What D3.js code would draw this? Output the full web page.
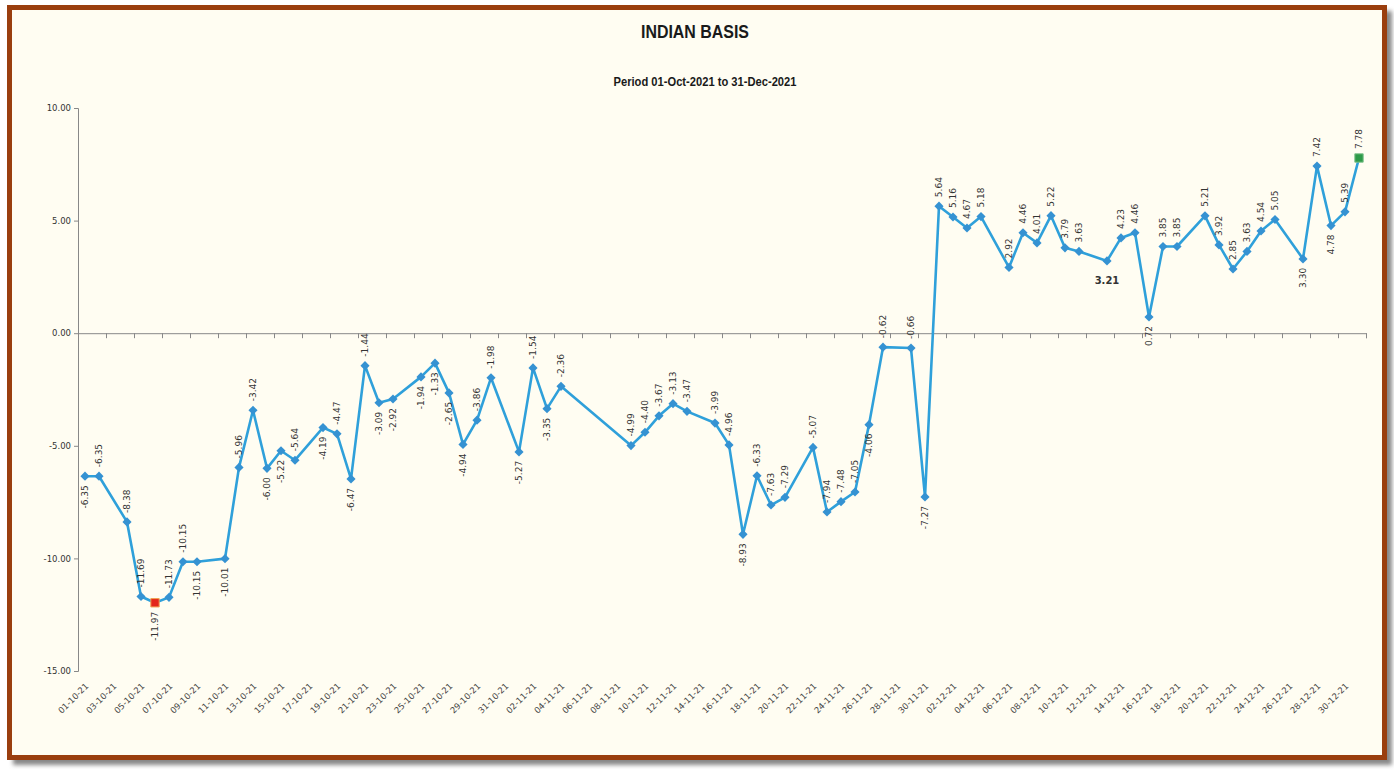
<!DOCTYPE html>
<html><head><meta charset="utf-8">
<script src="https://cdn.jsdelivr.net/npm/d3@7"></script>
<style>html,body{margin:0;padding:0;background:#fff;} svg{display:block}</style>
</head><body>
<svg id="c" width="1394" height="770"></svg>
<script>
// ---- data ----
const dates = [
 "01-10-21","02-10-21","04-10-21","05-10-21","06-10-21","07-10-21","08-10-21","09-10-21","11-10-21","12-10-21",
 "13-10-21","14-10-21","15-10-21","16-10-21","18-10-21","19-10-21","20-10-21","21-10-21","22-10-21","23-10-21",
 "25-10-21","26-10-21","27-10-21","28-10-21","29-10-21","30-10-21",
 "01-11-21","02-11-21","03-11-21","04-11-21","09-11-21","10-11-21","11-11-21","12-11-21","13-11-21","15-11-21",
 "16-11-21","17-11-21","18-11-21","19-11-21","20-11-21","22-11-21","23-11-21","24-11-21","25-11-21","26-11-21",
 "27-11-21","29-11-21","30-11-21",
 "01-12-21","02-12-21","03-12-21","04-12-21","06-12-21","07-12-21","08-12-21","09-12-21","10-12-21","11-12-21",
 "13-12-21","14-12-21","15-12-21","16-12-21","17-12-21","18-12-21","20-12-21","21-12-21","22-12-21","23-12-21",
 "24-12-21","25-12-21","27-12-21","28-12-21","29-12-21","30-12-21","31-12-21"
];
const basis = [
 -6.35,-6.35,-8.38,-11.69,-11.97,-11.73,-10.15,-10.15,-10.01,-5.96,
 -3.42,-6.00,-5.22,-5.64,-4.19,-4.47,-6.47,-1.44,-3.09,-2.92,
 -1.94,-1.33,-2.65,-4.94,-3.86,-1.98,
 -5.27,-1.54,-3.35,-2.36,-4.99,-4.40,-3.67,-3.13,-3.47,-3.99,
 -4.96,-8.93,-6.33,-7.63,-7.29,-5.07,-7.94,-7.48,-7.05,-4.06,
 -0.62,-0.66,-7.27,
 5.64,5.16,4.67,5.18,2.92,4.46,4.01,5.22,3.79,3.63,
 3.21,4.23,4.46,0.72,3.85,3.85,5.21,3.92,2.85,3.63,
 4.54,5.05,3.30,7.42,4.78,5.39,7.78
];
// dates whose value label sits below the point
const labelsBelow = ["01-10-21","06-10-21","09-10-21","11-10-21","14-10-21","15-10-21","18-10-21","20-10-21",
 "22-10-21","23-10-21","25-10-21","26-10-21","27-10-21","28-10-21","01-11-21","03-11-21","17-11-21",
 "26-11-21","30-11-21","16-12-21","27-12-21","29-12-21"];
const labelsFlat = ["13-12-21"];
const xTickLabels = [
 "01-10-21","03-10-21","05-10-21","07-10-21","09-10-21","11-10-21","13-10-21","15-10-21","17-10-21","19-10-21",
 "21-10-21","23-10-21","25-10-21","27-10-21","29-10-21","31-10-21","02-11-21","04-11-21","06-11-21","08-11-21",
 "10-11-21","12-11-21","14-11-21","16-11-21","18-11-21","20-11-21","22-11-21","24-11-21","26-11-21","28-11-21",
 "30-11-21","02-12-21","04-12-21","06-12-21","08-12-21","10-12-21","12-12-21","14-12-21","16-12-21","18-12-21",
 "20-12-21","22-12-21","24-12-21","26-12-21","28-12-21","30-12-21"
];
const yTicks = [10, 5, 0, -5, -10, -15];
const title = "INDIAN BASIS";
const subtitle = "Period 01-Oct-2021 to 31-Dec-2021";

// ---- chart ----
const svg = d3.select("#c");
const parse = d3.utcParse("%d-%m-%y");
const data = dates.map((d, i) => ({key: d, date: parse(d), v: basis[i]}));

const DAY = 864e5;
const start = new Date(Date.UTC(2021, 8, 30, 12));
const end = new Date(Date.UTC(2021, 11, 31, 12));
const x = d3.scaleUtc().domain([start, end]).range([78, 1366]);
const y = d3.scaleLinear().domain([-15, 10]).range([671, 108]);

// frame + shadow
const defs = svg.append("defs");
const f = defs.append("filter").attr("id", "sh").attr("x", "-5%").attr("y", "-5%").attr("width", "110%").attr("height", "110%");
f.append("feGaussianBlur").attr("stdDeviation", 2);
svg.append("rect").attr("x", 13).attr("y", 11).attr("width", 1379).attr("height", 754)
  .attr("fill", "#888").attr("filter", "url(#sh)");
svg.append("rect").attr("x", 9.5).attr("y", 7.5).attr("width", 1375).attr("height", 750)
  .attr("fill", "#FFFDF2").attr("stroke", "#9A3E0E").attr("stroke-width", 5);

// titles
svg.append("text").attr("x", 695).attr("y", 38).attr("text-anchor", "middle")
  .attr("textLength", 108).attr("lengthAdjust", "spacingAndGlyphs")
  .style("font-family", "'Liberation Sans',sans-serif")
  .style("font-weight", "bold").style("font-size", "19px").attr("fill", "#1a1a1a").text(title);
svg.append("text").attr("x", 705).attr("y", 86).attr("text-anchor", "middle")
  .attr("textLength", 183).attr("lengthAdjust", "spacingAndGlyphs")
  .style("font-family", "'Liberation Sans',sans-serif")
  .style("font-weight", "bold").style("font-size", "12px").attr("fill", "#1a1a1a").text(subtitle);

// y axis
const yAx = svg.append("g").attr("transform", "translate(78,0)")
  .call(d3.axisLeft(y).tickValues(yTicks).tickSize(4).tickPadding(3).tickFormat(d => d.toFixed(2)));
yAx.select(".domain").attr("stroke", "#888");
yAx.selectAll(".tick line").attr("stroke", "#888");
yAx.selectAll("text").style("font-family", "'DejaVu Sans',sans-serif").style("font-size", "8.5px").attr("fill", "#333");

// x axis along zero
const boundaries = d3.range(0, 47).map(k => new Date(+start + k * 2 * DAY));
const xAx = svg.append("g").attr("transform", `translate(0,${y(0)})`)
  .call(d3.axisBottom(x).tickValues(boundaries).tickSize(5).tickFormat(""));
xAx.select(".domain").attr("stroke", "#888");
xAx.selectAll(".tick line").attr("stroke", "#888");

// x labels at bottom
const xl = svg.append("g").attr("transform", "translate(0,686)")
  .call(d3.axisBottom(x).tickValues(xTickLabels.map(parse)).tickSize(0).tickFormat(d3.utcFormat("%d-%m-%y")));
xl.select(".domain").remove();
xl.selectAll("text").attr("x", 2).attr("y", 0).attr("dy", "0.35em")
  .attr("transform", "rotate(-45)").attr("text-anchor", "end")
  .style("font-family", "'DejaVu Sans',sans-serif").style("font-size", "8.5px").attr("fill", "#444");

// line
svg.append("path").datum(data)
  .attr("d", d3.line().x(d => x(d.date)).y(d => y(d.v)))
  .attr("fill", "none").attr("stroke", "#2FA0DA").attr("stroke-width", 2.6).attr("stroke-linejoin", "round");

// markers
const vMin = d3.min(basis), vMax = d3.max(basis);
svg.append("g").selectAll("path").data(data.filter(d => d.v !== vMin && d.v !== vMax)).join("path")
  .attr("transform", d => `translate(${x(d.date)},${y(d.v)}) rotate(45)`)
  .attr("d", d3.symbol(d3.symbolSquare, 42)).attr("fill", "#3592D2");
svg.append("g").selectAll("path").data(data.filter(d => d.v === vMin || d.v === vMax)).join("path")
  .attr("transform", d => `translate(${x(d.date)},${y(d.v)})`)
  .attr("d", d3.symbol(d3.symbolSquare, 70))
  .attr("fill", d => d.v === vMin ? "#E3261B" : "#2E9A48")
  .attr("stroke", d => d.v === vMin ? "#F0A050" : "#7CC08A").attr("stroke-width", 1);

// value labels
const lab = svg.append("g").style("font-family", "'DejaVu Sans',sans-serif").style("font-size", "9px").attr("fill", "#333");
data.forEach(d => {
  const px = x(d.date), py = y(d.v);
  const txt = d.v.toFixed(2);
  if (labelsFlat.includes(d.key)) {
    lab.append("text").attr("x", px).attr("y", py + 23).attr("text-anchor", "middle")
      .style("font-weight", "bold").style("font-size", "10px").text(txt);
  } else if (labelsBelow.includes(d.key)) {
    lab.append("text").attr("transform", `translate(${px},${py + 9}) rotate(-90)`)
      .attr("text-anchor", "end").attr("dy", "0.35em").text(txt);
  } else {
    lab.append("text").attr("transform", `translate(${px},${py - 9}) rotate(-90)`)
      .attr("text-anchor", "start").attr("dy", "0.35em").text(txt);
  }
});
</script>
</body></html>
